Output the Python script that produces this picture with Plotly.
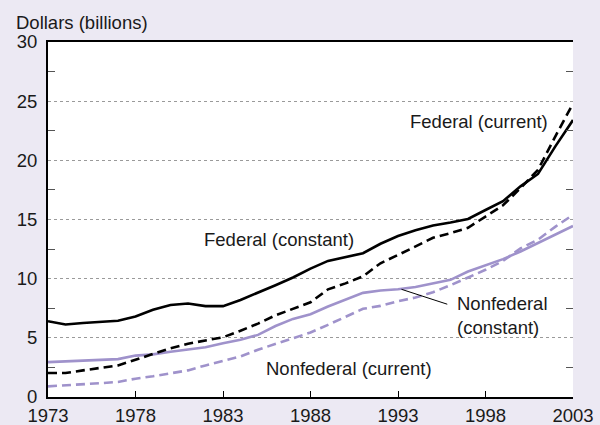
import plotly.graph_objects as go

years = list(range(1973, 2004))

federal_constant = [6.4, 6.13, 6.25, 6.33, 6.45, 6.8, 7.37, 7.77, 7.9, 7.68, 7.68,
                    8.2, 8.8, 9.45, 10.1, 10.85, 11.5, 11.85, 12.15, 12.95, 13.6,
                    14.1, 14.5, 14.75, 15.05, 15.8, 16.55, 17.8, 18.85, 21.2, 23.4]
federal_current = [2.03, 2.03, 2.25, 2.45, 2.67, 3.15, 3.65, 4.12, 4.5, 4.77, 5.05,
                   5.6, 6.2, 6.9, 7.45, 8.0, 9.1, 9.6, 10.2, 11.3, 12.0,
                   12.7, 13.45, 13.85, 14.3, 15.25, 16.2, 17.65, 19.2, 22.05, 24.8]
nonfederal_constant = [2.95, 3.0, 3.08, 3.13, 3.2, 3.5, 3.6, 3.82, 4.0, 4.2, 4.55,
                       4.83, 5.25, 6.0, 6.6, 7.0, 7.65, 8.2, 8.8, 9.0, 9.1,
                       9.3, 9.6, 9.9, 10.6, 11.15, 11.65, 12.3, 13.0, 13.75, 14.45]
nonfederal_current = [0.9, 0.97, 1.07, 1.17, 1.27, 1.55, 1.75, 2.0, 2.25, 2.67, 3.04,
                      3.43, 4.0, 4.5, 5.0, 5.45, 6.1, 6.8, 7.45, 7.7, 8.1,
                      8.4, 8.85, 9.45, 10.1, 10.75, 11.5, 12.55, 13.3, 14.4, 15.4]

x_ticks = [1973, 1978, 1983, 1988, 1993, 1998, 2003]
y_ticks = [0, 5, 10, 15, 20, 25, 30]
y_minor = [2.5, 7.5, 12.5, 17.5, 22.5, 27.5]

BLACK = "#000000"
LAV = "#9f92cb"
BG = "#ece9f3"
FONT = "Liberation Sans, Arial, sans-serif"
TXT = "#1a1a1a"

fig = go.Figure()
fig.add_trace(go.Scatter(x=years, y=nonfederal_current, mode="lines",
                         line=dict(color=LAV, width=2.6, dash="9px,5px")))
fig.add_trace(go.Scatter(x=years, y=nonfederal_constant, mode="lines",
                         line=dict(color=LAV, width=2.6)))
fig.add_trace(go.Scatter(x=years, y=federal_current, mode="lines",
                         line=dict(color=BLACK, width=2.6, dash="9px,5px")))
fig.add_trace(go.Scatter(x=years, y=federal_constant, mode="lines",
                         line=dict(color=BLACK, width=2.6)))
# invisible trace so the right-hand axis (minor ticks) is drawn
fig.add_trace(go.Scatter(x=[years[0]], y=[0], yaxis="y2", mode="lines",
                         line=dict(width=0), hoverinfo="skip"))

labels = [
    ("Federal (current)", 1997.6, 23.3),
    ("Federal (constant)", 1986.2, 13.3),
    ("Nonfederal (current)", 1990.2, 2.4),
]
for text, x, y in labels:
    fig.add_annotation(x=x, y=y, text=text, showarrow=False,
                       font=dict(size=18.5, color=TXT, family=FONT))

fig.add_annotation(x=1996.25, y=6.85, text="Nonfederal<br>(constant)", showarrow=False,
                   xanchor="left", align="left",
                   font=dict(size=18.5, color=TXT, family=FONT))
# leader line
fig.add_annotation(x=1993.2, y=9.1, ax=1995.9, ay=7.8, axref="x", ayref="y",
                   text="", showarrow=True, arrowhead=0, arrowwidth=1, arrowcolor="#000")

fig.add_annotation(xref="paper", yref="paper", x=-0.065, y=1.055, xanchor="left",
                   yanchor="middle", text="Dollars (billions)", showarrow=False,
                   font=dict(size=18.5, color=TXT, family=FONT))

fig.update_layout(
    width=600, height=425,
    margin=dict(l=48, r=27, t=42, b=28, autoexpand=False),
    paper_bgcolor=BG, plot_bgcolor="white",
    showlegend=False,
    font=dict(family=FONT, size=18, color=TXT),
    xaxis=dict(range=[1973, 2003], tickvals=x_ticks, ticks="inside", ticklen=6,
               tickcolor="#000", showline=True, linecolor="#000", linewidth=2,
               mirror=True, showgrid=False, zeroline=False, automargin=False,
               tickfont=dict(size=18.5), ticklabelstandoff=1),
    yaxis=dict(range=[0, 30], tickvals=y_ticks, ticks="", showline=True,
               linecolor="#000", linewidth=2, showgrid=True, gridcolor="#9a9a9a",
               gridwidth=1, griddash="3px,3px", zeroline=False, automargin=False,
               tickfont=dict(size=18.5), ticklabelstandoff=5,
               minor=dict(tickvals=y_minor, ticks="inside", ticklen=7,
                          tickcolor="#555", showgrid=False)),
    yaxis2=dict(range=[0, 30], overlaying="y", side="right", showticklabels=False,
                tickvals=[], showgrid=False, zeroline=False, showline=False,
                automargin=False,
                minor=dict(tickvals=y_minor, ticks="inside", ticklen=7,
                           tickcolor="#555", showgrid=False)),
)

# drop the browser's default 8px body margin so the figure sits at the page origin
fig.write_html("out.html", config={"displayModeBar": False},
               post_script="document.body.style.margin='0';"
                           "document.body.style.overflow='hidden';")
